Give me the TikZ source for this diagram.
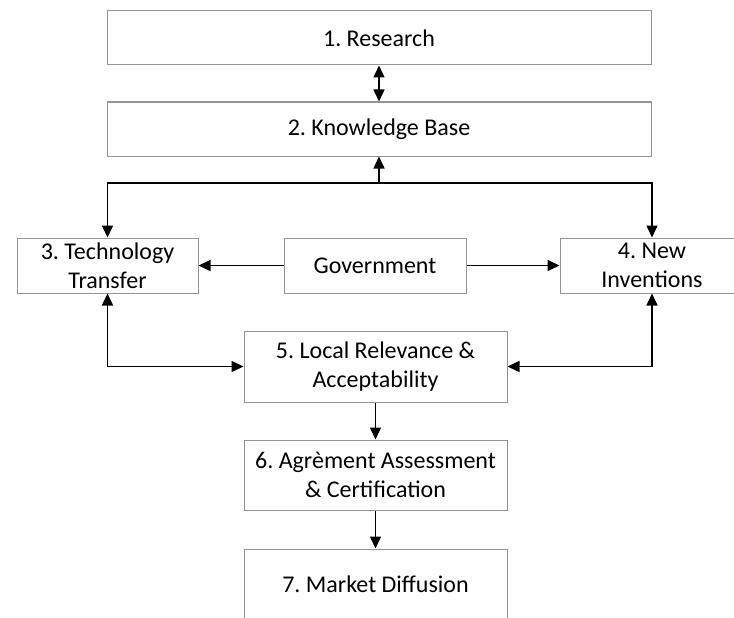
\documentclass[tikz,border=0pt]{standalone}
\usepackage{fontspec}
\setmainfont{Carlito}
\usetikzlibrary{arrows.meta}
\frenchspacing
\begin{document}
\begin{tikzpicture}[x=1pt,y=-1pt,
  box/.style={draw=black!42, line width=1pt, rectangle, inner sep=0pt, align=center,
    font=\fontsize{24}{29}\selectfont\frenchspacing, text=black},
  arr/.style={draw=black, line width=1.5pt, arrows={-Triangle[length=12pt,width=11pt]}},
  biarr/.style={draw=black, line width=1.5pt, arrows={Triangle[length=12pt,width=11pt]-Triangle[length=12pt,width=11pt]}}]
\path[use as bounding box, clip] (0,0) rectangle (734,618);
\fill[white] (0,0) rectangle (734,618);

\node[box, minimum width=544pt, minimum height=54pt] (b1) at (379,38) {1. Research};
\node[box, minimum width=544pt, minimum height=54pt] (b2) at (379,129) {2. Knowledge Base};
\node[box, minimum width=181pt, minimum height=55pt] (b3) at (107.5,265.5) {3. Technology\\Transfer};
\node[box, minimum width=182pt, minimum height=55pt] (gov) at (375,265.5) {Government};
\node[box, minimum width=184pt, minimum height=55pt] (b4) at (652,265.5) {4. New\\Inventions};
\node[box, minimum width=263pt, minimum height=71pt] (b5) at (375.5,366.5) {5. Local Relevance \&\\Acceptability};
\node[box, minimum width=263pt, minimum height=70pt] (b6) at (375.5,475) {6. Agrèment Assessment\\\& Certification};
\node[box, minimum width=263pt, minimum height=70pt] (b7) at (375.5,584) {7. Market Diffusion};

\coordinate (hub) at (379,183);

\draw[biarr] (b1) -- (b2);
\draw[arr] (hub) -- (b2.south);
\draw[biarr] (b3.north) -- (b3.north |- hub) -- (b4.north |- hub) -- (b4.north);
\draw[arr] (gov.west) -- (b3.east);
\draw[arr] (gov.east) -- (b4.west);
\draw[biarr] (b3.south) |- (b5.west);
\draw[biarr] (b4.south) |- (b5.east);
\draw[arr] (b5) -- (b6);
\draw[arr] (b6) -- (b7);
\end{tikzpicture}
\end{document}
